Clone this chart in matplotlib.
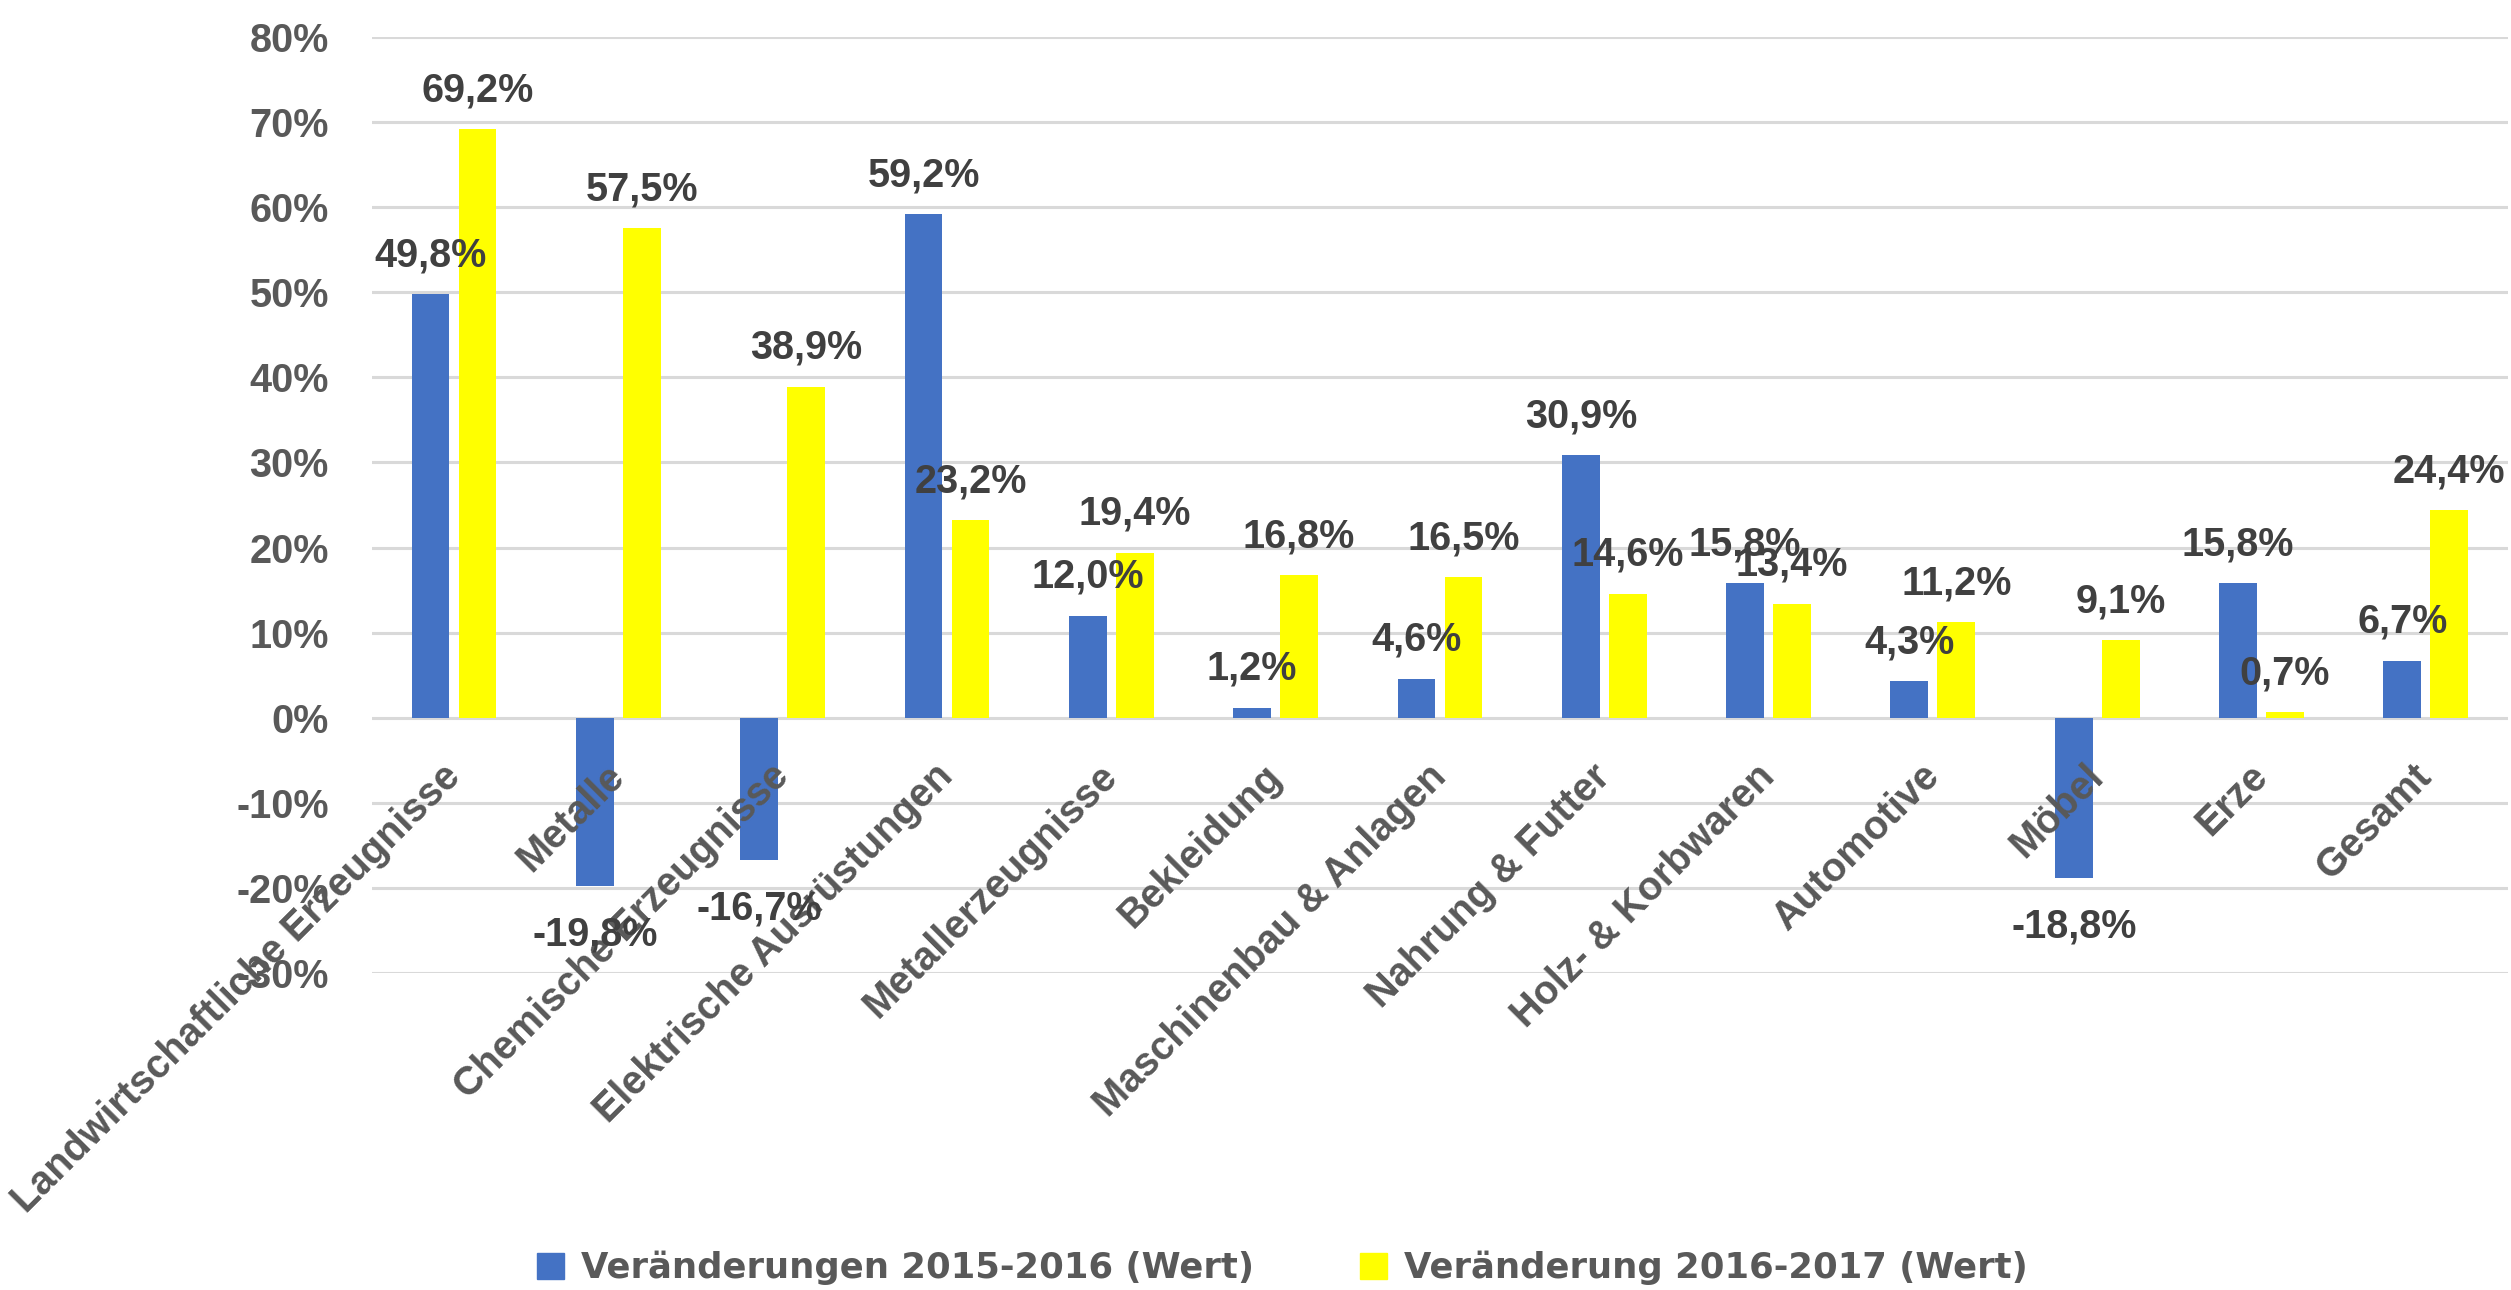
import matplotlib
matplotlib.use("Agg")
import matplotlib.pyplot as plt
from matplotlib.patches import Patch

# data
kategorien = ["Landwirtschaftliche Erzeugnisse", "Metalle", "Chemische Erzeugnisse",
              "Elektrische Ausrüstungen", "Metallerzeugnisse", "Bekleidung",
              "Maschinenbau & Anlagen", "Nahrung & Futter", "Holz- & Korbwaren",
              "Automotive", "Möbel", "Erze", "Gesamt"]
werte_2015_2016 = [49.8, -19.8, -16.7, 59.2, 12.0, 1.2, 4.6, 30.9, 15.8, 4.3, -18.8, 15.8, 6.7]
werte_2016_2017 = [69.2, 57.5, 38.9, 23.2, 19.4, 16.8, 16.5, 14.6, 13.4, 11.2, 9.1, 0.7, 24.4]
serien_namen = ["Veränderungen 2015-2016 (Wert)", "Veränderung 2016-2017 (Wert)"]
y_ticks = [-30, -20, -10, 0, 10, 20, 30, 40, 50, 60, 70, 80]
y_tick_labels = ["-30%", "-20%", "-10%", "0%", "10%", "20%", "30%", "40%", "50%", "60%", "70%", "80%"]

blau = "#4472C4"
gelb = "#FFFF00"
grau = "#595959"
dunkel = "#404040"
schrift = ["Liberation Sans", "DejaVu Sans"]

fig = plt.figure(figsize=(25.11, 12.9), dpi=100)
ax = fig.add_axes([0.1481, 0.2457, 0.8507, 0.7256])

x = list(range(len(kategorien)))
breite = 0.23
versatz = 0.143

# gridlines drawn by hand so they stay behind the bars while tick labels sit on top
for yt in y_ticks:
    ax.axhline(yt, color="#D9D9D9", linewidth=2.2, zorder=0.5)

b1 = ax.bar([i - versatz for i in x], werte_2015_2016, breite, color=blau, zorder=1)
b2 = ax.bar([i + versatz for i in x], werte_2016_2017, breite, color=gelb, zorder=1)

def beschriften(bars, werte):
    for bar, v in zip(bars, werte):
        txt = f"{v:.1f}".replace(".", ",") + "%"
        off = 20 if v >= 0 else -43
        ax.annotate(txt, (bar.get_x() + bar.get_width() / 2, v), xytext=(0, off),
                    textcoords="offset points", ha="center", va="baseline",
                    fontsize=28.5, fontweight="bold", color=dunkel, family=schrift,
                    zorder=5)

beschriften(b1, werte_2015_2016)
beschriften(b2, werte_2016_2017)

ax.set_xlim(-0.5, len(kategorien) - 0.5)
ax.set_ylim(-30, 80)
ax.set_yticks(y_ticks)
ax.set_yticklabels(y_tick_labels, fontsize=28.5, fontweight="bold", color=grau, family=schrift)
ax.set_axisbelow(False)

for s in ["top", "right", "left"]:
    ax.spines[s].set_visible(False)
ax.spines["bottom"].set_position(("data", 0))
ax.spines["bottom"].set_color("none")

ax.set_xticks(x)
ax.set_xticklabels(kategorien, rotation=45, ha="right", va="center", rotation_mode="anchor",
                   fontsize=28.5, fontweight="bold", color=grau, family=schrift)
ax.tick_params(axis="x", length=0, pad=38)
ax.tick_params(axis="y", length=0, pad=31)

handles = [Patch(color=blau), Patch(color=gelb)]
fig.legend(handles, serien_namen, loc="center", bbox_to_anchor=(0.5107, 0.017), ncol=2,
           frameon=False, handlelength=0.76, handleheight=0.76, handletextpad=0.48,
           columnspacing=3.0, borderpad=0,
           prop={"family": ["DejaVu Sans"], "weight": "bold", "size": 25.5},
           labelcolor=grau)

fig.savefig("out.png", dpi=100)
